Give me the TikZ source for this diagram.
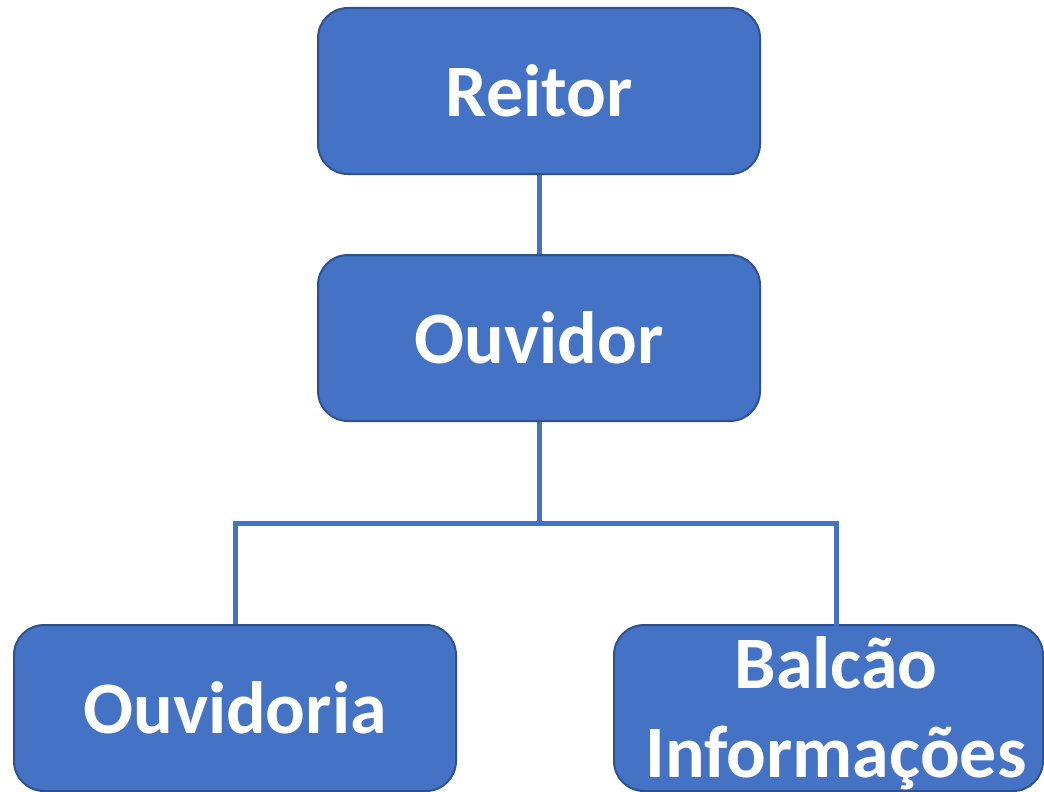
\documentclass[tikz,border=0pt]{standalone}
\usepackage{fontspec}
\setmainfont{Carlito}
\definecolor{boxfill}{HTML}{4472C4}
\definecolor{boxedge}{HTML}{2F528F}
\tikzset{
  orgbox/.style={draw=boxedge, line width=2pt, fill=boxfill, rounded corners=30pt,
    minimum width=442pt, minimum height=166pt, inner sep=0pt,
    text=white, font=\fontsize{74}{89}\selectfont\bfseries,
    text height=50pt, text depth=0pt},
  conn/.style={draw=boxfill, line width=5pt}
}
\begin{document}
\begin{tikzpicture}[x=1pt,y=-1pt]
\useasboundingbox (0,0) rectangle (1044,792);
\node[orgbox] (reitor) at (539,91) {Reitor};
\node[orgbox] (ouvidor) at (539,338) {Ouvidor};
\node[orgbox] (ouvidoria) at (235,708) {Ouvidoria};
\node[orgbox, minimum width=429pt] (balcao) at (828.5,708) {};
\node[text=white, font=\fontsize{74}{89}\selectfont\bfseries, align=center, anchor=base, inner sep=0pt] (balcaotext) at (836,777) {Balcão\\Informações};
\coordinate (j) at (539,523);
\coordinate (bt) at (836,626);
\draw[conn] (reitor.south) -- (ouvidor.north);
\draw[conn] (ouvidor.south) -- (j);
\draw[conn] (j) -| (ouvidoria.north);
\draw[conn] (j) -| (bt);
\end{tikzpicture}
\end{document}
